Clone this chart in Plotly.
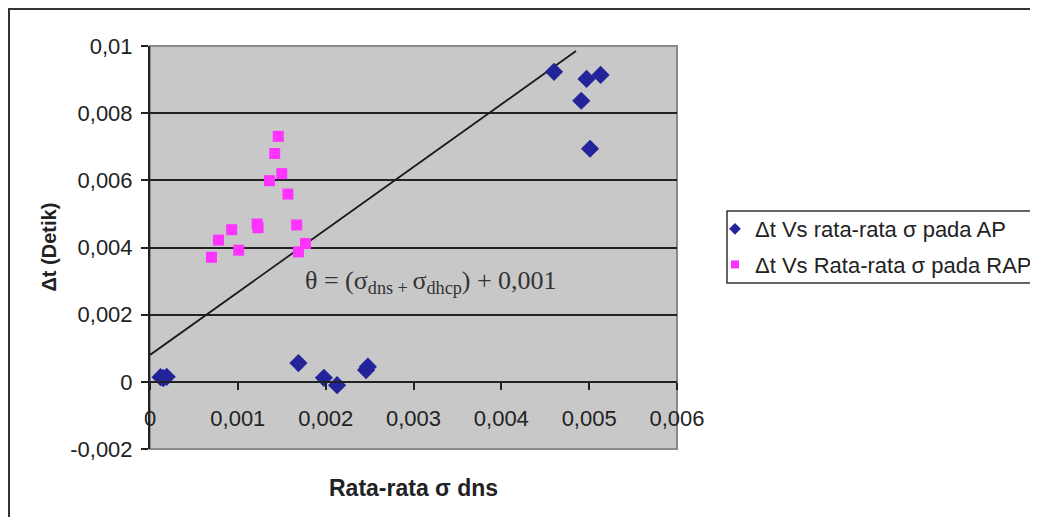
import plotly.graph_objects as go

# Data
ap_x = [0.00012, 0.00015, 0.00019, 0.00169, 0.00198, 0.00213, 0.00246, 0.00248,
        0.00460, 0.00497, 0.00513, 0.00491, 0.00501]
ap_y = [0.00014, 0.00011, 0.00015, 0.00056, 0.00012, -0.00010, 0.00035, 0.00045,
        0.00923, 0.00902, 0.00914, 0.00837, 0.00694]

rap_x = [0.00146, 0.00142, 0.00150, 0.00136, 0.00157, 0.00167, 0.00177, 0.00169,
         0.00122, 0.00123, 0.00093, 0.00078, 0.00101, 0.00070]
rap_y = [0.00731, 0.00680, 0.00620, 0.00599, 0.00559, 0.00467, 0.00412, 0.00387,
         0.00470, 0.00459, 0.00453, 0.00422, 0.00392, 0.00371]

line_x = [0.0, 0.00485]
line_y = [0.00080, 0.00985]

x_ticks = [0, 0.001, 0.002, 0.003, 0.004, 0.005, 0.006]
x_ticktext = ["0", "0,001", "0,002", "0,003", "0,004", "0,005", "0,006"]
y_ticks = [-0.002, 0, 0.002, 0.004, 0.006, 0.008, 0.01]
y_ticktext = ["-0,002", "0", "0,002", "0,004", "0,006", "0,008", "0,01"]

AP_NAME = "Δt Vs rata-rata σ pada AP"
RAP_NAME = "Δt Vs Rata-rata σ pada RAP"
AP_COLOR = "#24249a"
RAP_COLOR = "#ff33ff"

fig = go.Figure()
fig.add_trace(go.Scatter(x=line_x, y=line_y, mode="lines",
                         line=dict(color="#1a1a1a", width=1.8),
                         showlegend=False, hoverinfo="skip"))
fig.add_trace(go.Scatter(x=ap_x, y=ap_y, mode="markers", name=AP_NAME,
                         showlegend=False,
                         marker=dict(symbol="diamond", size=14, color=AP_COLOR)))
fig.add_trace(go.Scatter(x=rap_x, y=rap_y, mode="markers", name=RAP_NAME,
                         showlegend=False,
                         marker=dict(symbol="square", size=11, color=RAP_COLOR)))
# legend-only entries with small symbols
fig.add_trace(go.Scatter(x=[None], y=[None], mode="markers", name=AP_NAME,
                         legendgroup="a",
                         marker=dict(symbol="diamond", size=9, color=AP_COLOR)))
fig.add_trace(go.Scatter(x=[None], y=[None], mode="markers", name=RAP_NAME,
                         legendgroup="b",
                         marker=dict(symbol="square", size=8, color=RAP_COLOR)))

# page body has an 8px margin; plot area spans px x 150..677, y 46..449
W, H = 1030, 509
L, T = 150 - 8, 46 - 8
R = W - (677 - 8)
B = H - (449 - 8)
PW, PH = 527, 403


def px_x(px):
    return (px - 150) / PW


def px_y(py):
    return (449 - py) / PH


font = "Liberation Sans, Arial, sans-serif"
fig.update_layout(
    width=W, height=H,
    margin=dict(l=L, r=R, t=T, b=B, autoexpand=False),
    paper_bgcolor="white",
    plot_bgcolor="#c8c8c8",
    font=dict(family=font, size=22, color="#222"),
    xaxis=dict(range=[0, 0.006], tickvals=x_ticks, ticktext=x_ticktext,
               showgrid=False, zeroline=False, showline=True,
               linecolor="#222", linewidth=2,
               ticks="outside", ticklen=7, tickwidth=2, tickcolor="#222",
               anchor="free", position=1/6, automargin=False,
               ticklabelstandoff=10,
               tickfont=dict(size=22, color="#222")),
    yaxis=dict(range=[-0.002, 0.01], tickvals=y_ticks, ticktext=y_ticktext,
               showgrid=True, gridcolor="#222", gridwidth=1.5,
               zeroline=False, showline=True, linecolor="#222", linewidth=2,
               ticks="outside", ticklen=7, tickwidth=2, tickcolor="#222",
               automargin=False, ticklabelstandoff=4,
               tickfont=dict(size=22, color="#222")),
    legend=dict(x=px_x(715), y=px_y(208), xanchor="left", yanchor="top",
                bgcolor="rgba(0,0,0,0)", borderwidth=0,
                font=dict(size=22, family=font, color="#222"),
                tracegroupgap=4, itemwidth=30),
    showlegend=True,
    shapes=[
        dict(type="rect", xref="paper", yref="paper", x0=0, x1=1, y0=0, y1=1,
             line=dict(color="#8a8a8a", width=2), layer="below"),
        dict(type="rect", xref="paper", yref="paper", x0=px_x(9), x1=2.5,
             y0=-1, y1=px_y(9), line=dict(color="#333", width=2)),
        dict(type="rect", xref="paper", yref="paper", x0=px_x(727), x1=2.5,
             y0=px_y(283), y1=px_y(211), fillcolor="white",
             line=dict(color="#333", width=1.5), layer="above"),
    ],
    annotations=[
        dict(text="θ = (σ<sub>dns + </sub>σ<sub>dhcp</sub>) + 0,001",
             x=0.0032, y=0.00297, xref="x", yref="y", showarrow=False,
             xanchor="center", yanchor="middle",
             font=dict(family="Liberation Serif, Times New Roman, serif",
                       size=26, color="#333")),
        dict(text="<b>Rata-rata σ dns</b>", x=0.5, y=px_y(488),
             xref="paper", yref="paper", showarrow=False,
             xanchor="center", yanchor="middle",
             font=dict(size=23, family=font, color="#222")),
        dict(text="<b>Δt (Detik)</b>", x=px_x(48), y=0.5,
             xref="paper", yref="paper", showarrow=False, textangle=-90,
             xanchor="center", yanchor="middle",
             font=dict(size=20, family=font, color="#222")),
    ],
)

fig.write_html("out.html")
